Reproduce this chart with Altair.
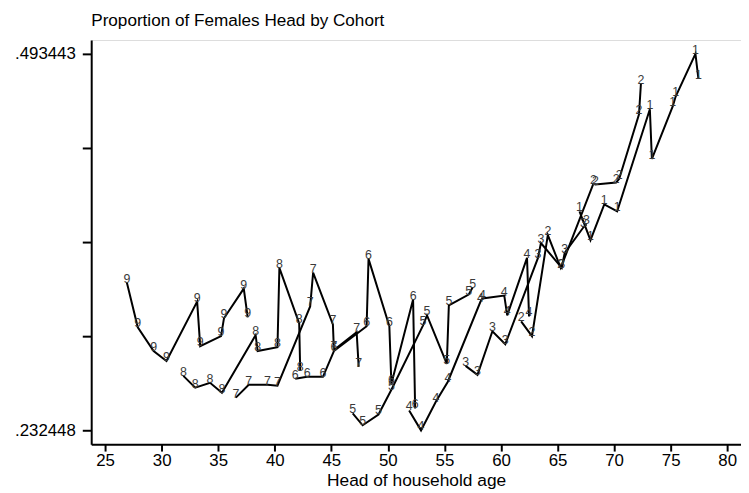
import altair as alt
import pandas as pd

# cohort series (age of household head, proportion of female heads)
cohorts = [9, 8, 7, 6, 5, 4, 3, 2, 1]

age_c9 = [26.93, 27.89, 29.29, 30.43, 33.14, 33.41, 35.25, 35.51, 37.26, 37.61]
prop_c9 = [0.3348, 0.3039, 0.2874, 0.2805, 0.3217, 0.2908, 0.2977, 0.3101, 0.3307, 0.3107]

age_c8 = [31.92, 32.97, 34.28, 35.33, 38.31, 38.49, 40.24, 40.41, 42.16, 42.25]
prop_c8 = [0.2702, 0.2620, 0.2654, 0.2585, 0.2984, 0.2874, 0.2901, 0.3451, 0.3066, 0.2737]

age_c7 = [36.56, 37.70, 39.36, 40.24, 43.13, 43.39, 45.14, 45.23, 47.24, 47.42]
prop_c7 = [0.2551, 0.2640, 0.2640, 0.2634, 0.3183, 0.3417, 0.3059, 0.2881, 0.3004, 0.2764]

age_c6 = [41.81, 42.86, 44.26, 45.23, 48.12, 48.29, 50.13, 50.31, 52.23, 52.41]
prop_c6 = [0.2682, 0.2695, 0.2695, 0.2874, 0.3046, 0.3513, 0.3046, 0.2647, 0.3231, 0.2476]

age_c5 = [46.89, 47.77, 49.17, 50.31, 53.11, 53.46, 55.21, 55.39, 57.14, 57.49]
prop_c5 = [0.2441, 0.2359, 0.2434, 0.2606, 0.3052, 0.3121, 0.2785, 0.3190, 0.3265, 0.3314]

age_c4 = [51.88, 52.93, 54.25, 55.30, 58.19, 58.36, 60.29, 60.55, 62.30, 62.48]
prop_c4 = [0.2462, 0.2324, 0.2524, 0.2661, 0.3217, 0.3238, 0.3259, 0.3121, 0.3520, 0.3114]

age_c3 = [56.87, 57.92, 59.24, 60.38, 63.27, 63.53, 65.37, 65.63, 67.29, 67.56]
prop_c3 = [0.2771, 0.2709, 0.3011, 0.2922, 0.3520, 0.3623, 0.3451, 0.3554, 0.3732, 0.3753]

age_c2 = [61.78, 62.74, 64.14, 65.28, 68.17, 68.34, 70.18, 70.45, 72.20, 72.37]
prop_c2 = [0.3080, 0.2977, 0.3678, 0.3451, 0.4035, 0.4028, 0.4042, 0.4069, 0.4515, 0.4728]

age_c1 = [66.94, 67.91, 69.13, 70.27, 73.16, 73.34, 75.18, 75.44, 77.19, 77.45]
prop_c1 = [0.3842, 0.3643, 0.3891, 0.3842, 0.4550, 0.4206, 0.4570, 0.4639, 0.4934, 0.4763]

x_ticks = [25, 30, 35, 40, 45, 50, 55, 60, 65, 70, 75, 80]
y_ticks = [0.232448, 0.297697, 0.362946, 0.428194, 0.493443]
y_tick_labels = [".232448", "", "", "", ".493443"]

series = {
    9: (age_c9, prop_c9), 8: (age_c8, prop_c8), 7: (age_c7, prop_c7),
    6: (age_c6, prop_c6), 5: (age_c5, prop_c5), 4: (age_c4, prop_c4),
    3: (age_c3, prop_c3), 2: (age_c2, prop_c2), 1: (age_c1, prop_c1),
}

rows = []
for c in cohorts:
    ages, props = series[c]
    for i, (a, p) in enumerate(zip(ages, props)):
        rows.append({"age": a, "prop": p, "cohort": c, "label": str(c), "idx": i})
df = pd.DataFrame(rows)

# label expression built from tick lists
expr = "''"
for v, lab in zip(y_ticks, y_tick_labels):
    expr = f"abs(datum.value - {v}) < 0.0001 ? '{lab}' : ({expr})"

FONT = "Liberation Sans"

x_enc = alt.X(
    "age:Q",
    scale=alt.Scale(domain=[23.774, 81.217], nice=False, zero=False),
    axis=alt.Axis(
        values=x_ticks, title="Head of household age", grid=False,
        tickSize=7, tickWidth=2, domainWidth=2, domainColor="black", tickColor="black",
        labelFont=FONT, labelFontSize=17, labelColor="black", labelPadding=2,
        labelFlush=False, labelOverlap=False,
        titleFont=FONT, titleFontSize=17.5, titleFontWeight="normal", titleColor="black",
        titlePadding=3,
    ),
)
y_enc = alt.Y(
    "prop:Q",
    scale=alt.Scale(domain=[0.222832, 0.503059], nice=False, zero=False),
    axis=alt.Axis(
        values=y_ticks, labelExpr=expr, title=None, grid=False,
        tickSize=9, tickWidth=2, domainWidth=2, domainColor="black", tickColor="black",
        labelFont=FONT, labelFontSize=17, labelColor="black", labelPadding=7,
        labelAngle=0, labelBaseline="middle", labelOverlap=False, labelFlush=False,
    ),
)

base = alt.Chart(df)

lines = base.mark_line(color="black", strokeWidth=2).encode(
    x=x_enc, y=y_enc, detail="cohort:N", order="idx:Q"
)
labels = base.mark_text(
    font=FONT, fontSize=12.5, color="#3a3a3a", align="center", baseline="middle", dy=-4
).encode(x="age:Q", y="prop:Q", text="label:N")

chart = (
    alt.layer(lines, labels)
    .properties(
        width=656,
        height=408,
        autosize=alt.AutoSizeParams(type="none"),
        padding={"left": 84, "top": 30, "right": 0, "bottom": 46},
        title=alt.TitleParams(
            "Proportion of Females Head by Cohort", anchor="start", frame="group",
            font=FONT, fontSize=17.3, fontWeight="normal", color="black",
            offset=-3, baseline="alphabetic",
        ),
    )
    .configure_view(strokeWidth=0)
    .configure(background="white")
)

chart.save("out.html", embed_options={"renderer": "svg", "actions": False})
